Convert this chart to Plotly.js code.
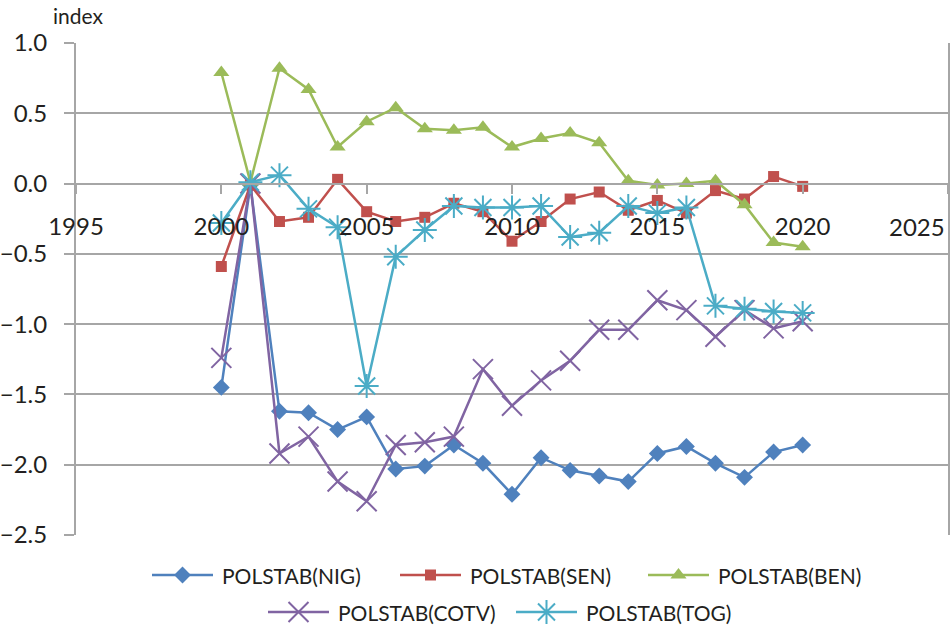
<!DOCTYPE html>
<html>
<head>
<meta charset="utf-8">
<script src="https://cdn.plot.ly/plotly-3.0.1.min.js"></script>
<style>html,body{margin:0;padding:0;background:#fff;}</style>
</head>
<body>
<div id="chart" style="width:952px;height:628px;"></div>
<script>
const years = [2000,2001,2002,2003,2004,2005,2006,2007,2008,2009,2010,2011,2012,2013,2014,2015,2016,2017,2018,2019,2020];
const nig  = [-1.45,-0.01,-1.62,-1.63,-1.75,-1.66,-2.03,-2.01,-1.86,-1.99,-2.21,-1.95,-2.04,-2.08,-2.12,-1.92,-1.87,-1.99,-2.09,-1.91,-1.86];
const sen  = [-0.59,-0.01,-0.27,-0.24,0.03,-0.20,-0.27,-0.24,-0.14,-0.20,-0.41,-0.27,-0.11,-0.06,-0.19,-0.12,-0.21,-0.05,-0.11,0.05,-0.02];
const ben  = [0.79,0.01,0.82,0.67,0.26,0.44,0.54,0.39,0.38,0.40,0.26,0.32,0.36,0.29,0.02,-0.01,0.00,0.02,-0.15,-0.42,-0.45];
const cotv = [-1.24,0.00,-1.92,-1.80,-2.12,-2.26,-1.86,-1.84,-1.80,-1.32,-1.58,-1.40,-1.26,-1.04,-1.04,-0.83,-0.90,-1.09,-0.90,-1.03,-0.98];
const tog  = [-0.28,0.01,0.06,-0.18,-0.31,-1.44,-0.52,-0.33,-0.16,-0.17,-0.17,-0.16,-0.38,-0.35,-0.16,-0.21,-0.17,-0.87,-0.89,-0.91,-0.92];
const names = ["POLSTAB(NIG)","POLSTAB(SEN)","POLSTAB(BEN)","POLSTAB(COTV)","POLSTAB(TOG)"];
const xTicks = [1995,2000,2005,2010,2015,2020,2025];
const yTicks = [-2.5,-2.0,-1.5,-1.0,-0.5,0.0,0.5,1.0];

const colors = ["#4F81BD","#C0504D","#9BBB59","#8064A2","#4BACC6"];
const symbols = ["diamond","square","triangle-up","x-thin-open","asterisk-open"];
const sizes = [13,11,14,20,20];
const series = [nig, sen, ben, cotv, tog];
const FONT = "Lato, 'Noto Sans', sans-serif";
const TXT = "#231f20";
const GRID = "#a6a6a6";

function markerFor(i){
  return {symbol:symbols[i], size:sizes[i], color:colors[i], line:{color:colors[i], width: i>=3?2:0}};
}

const traces = series.map((ys,i)=>({
  type:"scatter", mode:"lines+markers", x:years, y:ys, name:names[i],
  line:{color:colors[i], width:2.5}, marker:markerFor(i), xaxis:"x", yaxis:"y",
  showlegend:false, cliponaxis:false
}));

// custom legend drawn on a hidden pixel-space overlay axis
const W = 952, H = 628;
const legendSlots = [ {x:152, y:575}, {x:400, y:575}, {x:648, y:575}, {x:268, y:612}, {x:516, y:612} ];
const KEY = 61, GAP = 7;
const lastTick = xTicks[xTicks.length-1];
const annotations = [
  {text:"index", xref:"paper", yref:"paper", x:51/W, y:1-16/H, xanchor:"left", yanchor:"middle",
    showarrow:false, font:{family:FONT, size:21, color:TXT}},
  // last x tick label is pulled inside the figure edge, as in the original
  {text:String(lastTick), xref:"paper", yref:"paper", x:947/W, y:1-226/H, xanchor:"right", yanchor:"middle",
    showarrow:false, font:{family:FONT, size:24, color:TXT}}
];
legendSlots.forEach((s,i)=>{
  traces.push({type:"scatter", mode:"lines", x:[s.x, s.x+KEY], y:[s.y, s.y], xaxis:"x2", yaxis:"y2",
    line:{color:colors[i], width:2.5}, showlegend:false, hoverinfo:"skip"});
  traces.push({type:"scatter", mode:"markers", x:[s.x+KEY/2], y:[s.y], xaxis:"x2", yaxis:"y2",
    marker:markerFor(i), showlegend:false, hoverinfo:"skip"});
  annotations.push({text:names[i], xref:"x2", yref:"y2", x:s.x+KEY+GAP, y:s.y, xanchor:"left", yanchor:"middle",
    showarrow:false, font:{family:FONT, size:21, color:TXT}});
});

const layout = {
  width:W, height:H,
  margin:{l:0, r:0, t:0, b:0, pad:0},
  paper_bgcolor:"#fff", plot_bgcolor:"rgba(0,0,0,0)",
  font:{family:FONT, color:TXT, size:21},
  showlegend:false,
  xaxis:{
    domain:[76/W, 948/W],
    range:[1995,2025], tickvals:xTicks, ticktext:xTicks.map(v=> v===lastTick ? "" : String(v)),
    anchor:"free", position:(H-184)/H,
    showgrid:false, zeroline:false, showline:true, linecolor:GRID, linewidth:2,
    ticks:"outside", ticklen:9, tickwidth:2, tickcolor:GRID,
    ticklabelstandoff:12,
    tickfont:{family:FONT, size:24, color:TXT}
  },
  yaxis:{
    domain:[(H-535)/H, (H-43)/H], anchor:"x",
    range:[-2.5,1.0], tickvals:yTicks, ticktext:yTicks.map(v=>v.toFixed(1).replace("-","\u2212")),
    showgrid:true, gridcolor:GRID, gridwidth:2, zeroline:false,
    showline:true, mirror:true, linecolor:GRID, linewidth:2,
    ticks:"outside", ticklen:10, tickwidth:2, tickcolor:GRID,
    ticklabelstandoff:12,
    tickfont:{family:FONT, size:24, color:TXT}
  },
  xaxis2:{domain:[0,1], range:[0,W], visible:false, anchor:"y2", fixedrange:true},
  yaxis2:{domain:[0,1], range:[H,0], visible:false, anchor:"x2", fixedrange:true},
  annotations:annotations
};

Plotly.newPlot("chart", traces, layout, {displayModeBar:false, staticPlot:true});
</script>
</body>
</html>
